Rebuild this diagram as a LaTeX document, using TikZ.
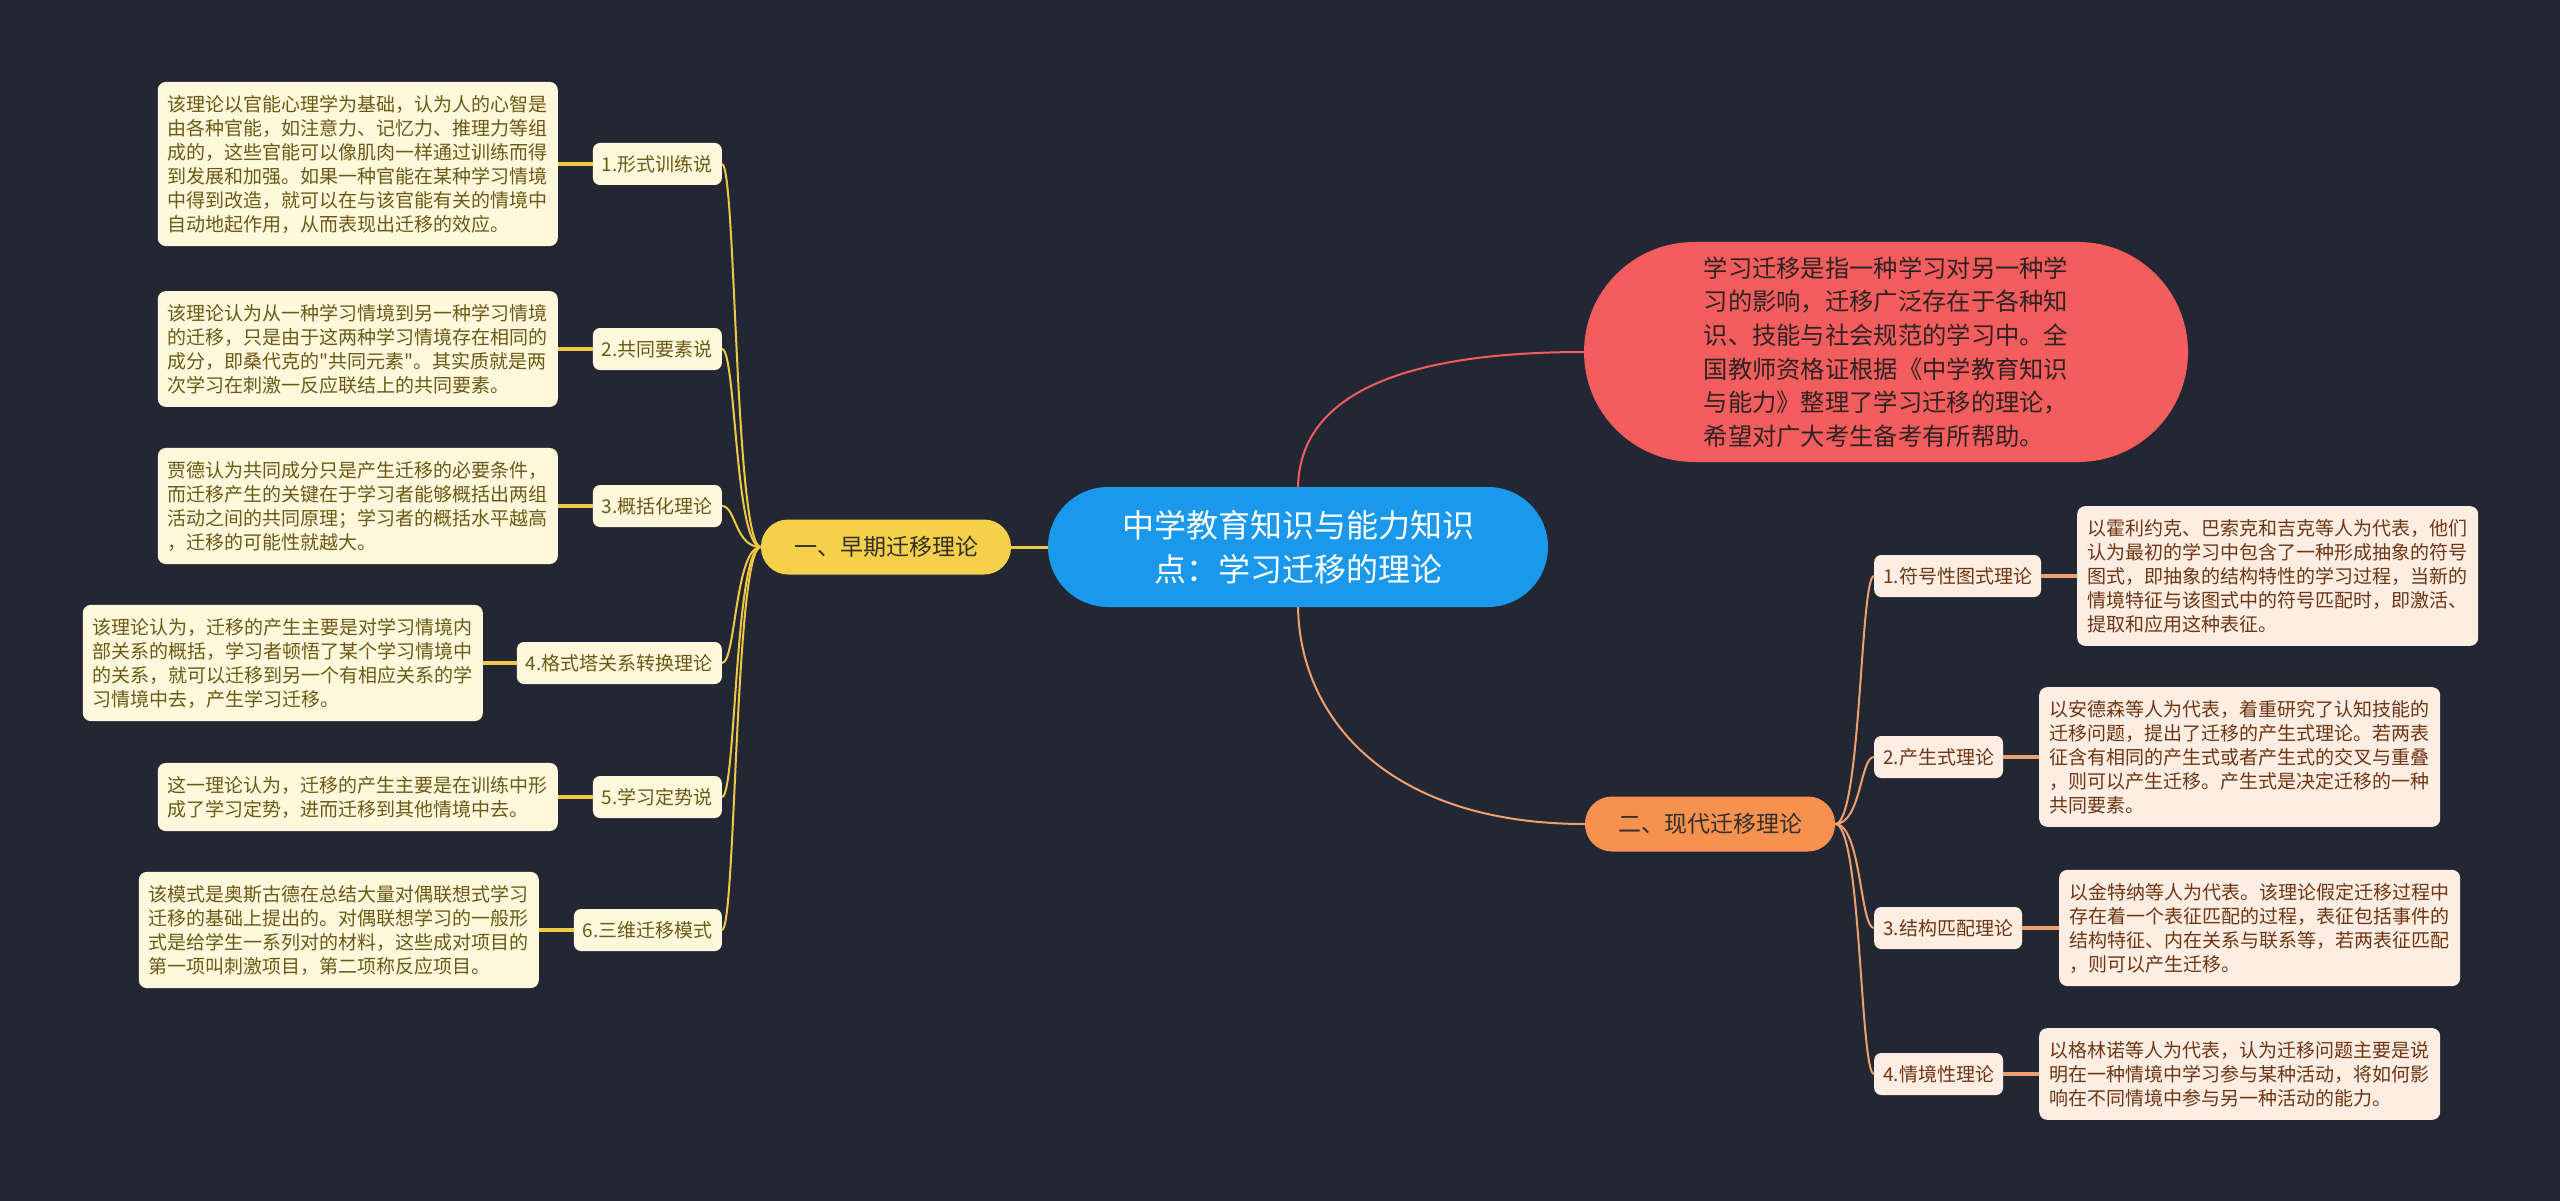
\documentclass[tikz,border=0pt]{standalone}
\usepackage{fontspec}
\setmainfont{Noto Sans CJK SC}
\newfontfamily\plainq{Noto Sans CJK SC}
\usetikzlibrary{calc}
\definecolor{bg}{HTML}{232733}
\definecolor{cblue}{HTML}{1A98EC}
\definecolor{cred}{HTML}{F45D5D}
\definecolor{credtext}{HTML}{2E2222}
\definecolor{yel}{HTML}{F5D04A}
\definecolor{yelline}{HTML}{EFC945}
\definecolor{org}{HTML}{F7914F}
\definecolor{orgline}{HTML}{F0A06E}
\definecolor{lfill}{HTML}{FFF8DC}
\definecolor{ltext}{HTML}{6B5A16}
\definecolor{rfill}{HTML}{FDEDE2}
\definecolor{rtext}{HTML}{6E3614}
\definecolor{btext}{HTML}{33302A}
\begin{document}
\begin{tikzpicture}[x=1pt,y=-1pt,
  boxL/.style={fill=lfill,text=ltext,rounded corners=8pt,inner xsep=10pt,inner ysep=13pt,text width=380pt,align=left,font=\fontsize{19}{24}\selectfont},
  labL/.style={fill=lfill,text=ltext,rounded corners=7pt,inner xsep=9pt,inner ysep=0pt,minimum height=42pt,font=\fontsize{19}{24}\selectfont},
  boxR/.style={fill=rfill,text=rtext,rounded corners=8pt,inner xsep=10pt,inner ysep=13pt,text width=381pt,align=left,font=\fontsize{19}{24}\selectfont},
  labR/.style={fill=rfill,text=rtext,rounded corners=7pt,inner xsep=9pt,inner ysep=0pt,minimum height=42pt,font=\fontsize{19}{24}\selectfont},
  branch/.style={rounded corners=27pt,minimum width=250pt,minimum height=55pt,inner sep=0pt,text=btext,font=\fontsize{23}{28}\selectfont},
  trunkL/.style={draw=yelline,line width=2pt},
  trunkR/.style={draw=orgline,line width=2pt},
  leafL/.style={draw=yelline,line width=4pt},
  leafR/.style={draw=orgline,line width=4pt}
]
\fill[bg] (0,0) rectangle (2560,1201);
\useasboundingbox (0,0) rectangle (2560,1201);

% central node
\node[fill=cblue,text=white,rounded corners=60pt,minimum width=500pt,minimum height=120pt,inner sep=0pt,align=center,font=\fontsize{32}{44}\selectfont] (c) at (1298,547) {中学教育知识与能力知识\\点：学习迁移的理论};

% intro node
\node[fill=cred,text=credtext,rounded corners=110pt,minimum width=604pt,minimum height=220pt,inner sep=0pt,align=left,font=\fontsize{24.3}{33.6}\selectfont] (red) at (1886,352) {学习迁移是指一种学习对另一种学\\习的影响，迁移广泛存在于各种知\\识、技能与社会规范的学习中。全\\国教师资格证根据《中学教育知识\\与能力》整理了学习迁移的理论，\\希望对广大考生备考有所帮助。};

% branches
\node[branch,fill=yel] (b1) at (886,547) {一、早期迁移理论};
\node[branch,fill=org] (b2) at (1710,824) {二、现代迁移理论};

% left labels
\node[labL,anchor=east] (l1) at (722,164) {1.形式训练说};
\node[labL,anchor=east] (l2) at (722,349) {2.共同要素说};
\node[labL,anchor=east] (l3) at (722,506) {3.概括化理论};
\node[labL,anchor=east] (l4) at (722,663) {4.格式塔关系转换理论};
\node[labL,anchor=east] (l5) at (722,797) {5.学习定势说};
\node[labL,anchor=east] (l6) at (722,930) {6.三维迁移模式};

% left boxes
\node[boxL,anchor=east] (t1) at (558,164) {该理论以官能心理学为基础，认为人的心智是\\由各种官能，如注意力、记忆力、推理力等组\\成的，这些官能可以像肌肉一样通过训练而得\\到发展和加强。如果一种官能在某种学习情境\\中得到改造，就可以在与该官能有关的情境中\\自动地起作用，从而表现出迁移的效应。};
\node[boxL,anchor=east] (t2) at (558,349) {该理论认为从一种学习情境到另一种学习情境\\的迁移，只是由于这两种学习情境存在相同的\\成分，即桑代克的{\plainq"}共同元素{\plainq"}。其实质就是两\\次学习在刺激一反应联结上的共同要素。};
\node[boxL,anchor=east] (t3) at (558,506) {贾德认为共同成分只是产生迁移的必要条件，\\而迁移产生的关键在于学习者能够概括出两组\\活动之间的共同原理；学习者的概括水平越高\\，迁移的可能性就越大。};
\node[boxL,anchor=east] (t4) at (483,663) {该理论认为，迁移的产生主要是对学习情境内\\部关系的概括，学习者顿悟了某个学习情境中\\的关系，就可以迁移到另一个有相应关系的学\\习情境中去，产生学习迁移。};
\node[boxL,anchor=east] (t5) at (558,797) {这一理论认为，迁移的产生主要是在训练中形\\成了学习定势，进而迁移到其他情境中去。};
\node[boxL,anchor=east] (t6) at (539,930) {该模式是奥斯古德在总结大量对偶联想式学习\\迁移的基础上提出的。对偶联想学习的一般形\\式是给学生一系列对的材料，这些成对项目的\\第一项叫刺激项目，第二项称反应项目。};

% right labels
\node[labR,anchor=west] (r1) at (1874,576) {1.符号性图式理论};
\node[labR,anchor=west] (r2) at (1874,757) {2.产生式理论};
\node[labR,anchor=west] (r3) at (1874,928) {3.结构匹配理论};
\node[labR,anchor=west] (r4) at (1874,1074) {4.情境性理论};

% right boxes
\node[boxR,anchor=west] (s1) at (2077,576) {以霍利约克、巴索克和吉克等人为代表，他们\\认为最初的学习中包含了一种形成抽象的符号\\图式，即抽象的结构特性的学习过程，当新的\\情境特征与该图式中的符号匹配时，即激活、\\提取和应用这种表征。};
\node[boxR,anchor=west] (s2) at (2039,757) {以安德森等人为代表，着重研究了认知技能的\\迁移问题，提出了迁移的产生式理论。若两表\\征含有相同的产生式或者产生式的交叉与重叠\\，则可以产生迁移。产生式是决定迁移的一种\\共同要素。};
\node[boxR,anchor=west] (s3) at (2059,928) {以金特纳等人为代表。该理论假定迁移过程中\\存在着一个表征匹配的过程，表征包括事件的\\结构特征、内在关系与联系等，若两表征匹配\\，则可以产生迁移。};
\node[boxR,anchor=west] (s4) at (2039,1074) {以格林诺等人为代表，认为迁移问题主要是说\\明在一种情境中学习参与某种活动，将如何影\\响在不同情境中参与另一种活动的能力。};

% main connectors
\draw[draw=cred,line width=2pt] (c.north) .. controls (1300,400) and (1390,352) .. (red.west);
\draw[draw=orgline,line width=2pt] (c.south) .. controls (1300,720) and (1390,824) .. (b2.west);
\draw[draw=yelline,line width=3pt] (c.west) -- (b1.east);

% left trunk
\foreach \n in {l1,l2,l3,l4,l5,l6}{
  \draw[trunkL] (b1.west) .. controls ($(b1.west)+(-26,0)$) and ($(\n.east)+(14,0)$) .. (\n.east);
}
% right trunk
\foreach \n in {r1,r2,r3,r4}{
  \draw[trunkR] (b2.east) .. controls ($(b2.east)+(26,0)$) and ($(\n.west)+(-14,0)$) .. (\n.west);
}
% leaf connectors
\draw[leafL] (l1.west) -- (t1.east);
\draw[leafL] (l2.west) -- (t2.east);
\draw[leafL] (l3.west) -- (t3.east);
\draw[leafL] (l4.west) -- (t4.east);
\draw[leafL] (l5.west) -- (t5.east);
\draw[leafL] (l6.west) -- (t6.east);
\draw[leafR] (r1.east) -- (s1.west);
\draw[leafR] (r2.east) -- (s2.west);
\draw[leafR] (r3.east) -- (s3.west);
\draw[leafR] (r4.east) -- (s4.west);
\end{tikzpicture}
\end{document}
